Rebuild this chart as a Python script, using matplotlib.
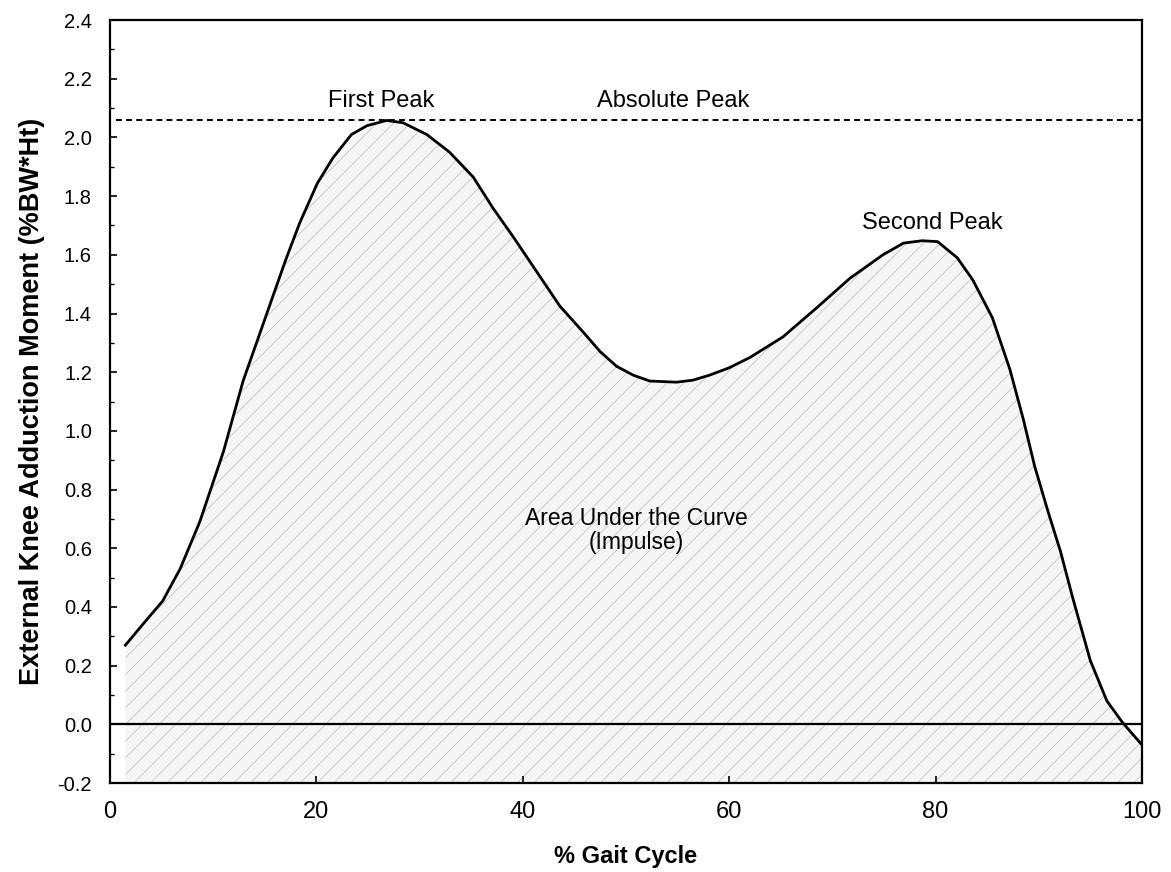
import matplotlib
matplotlib.use("Agg")
import matplotlib.pyplot as plt
import numpy as np

plt.rcParams['font.family'] = ['Liberation Sans', 'DejaVu Sans']
plt.rcParams['hatch.linewidth'] = 0.5

# knee adduction moment over the gait cycle
gait = [1.5, 3.4, 5.1, 6.8, 8.7, 11.0, 12.9, 14.8, 15.7, 17.0, 18.4, 20.1, 21.6,
        23.4, 24.9, 26.8, 28.4, 30.7, 32.9, 35.2, 37.1, 39.1, 41.4, 43.6, 45.9,
        47.5, 49.1, 50.7, 52.3, 54.9, 56.5, 58.1, 60.0, 62.0, 65.2, 68.5, 71.7,
        74.9, 76.9, 78.7, 80.2, 82.1, 83.6, 85.5, 87.2, 88.5, 89.6, 90.9, 92.1,
        93.3, 95.0, 96.6, 98.1, 100.0]
moment = [0.27, 0.35, 0.42, 0.53, 0.69, 0.93, 1.17, 1.36, 1.45, 1.58, 1.71, 1.844, 1.93,
          2.01, 2.04, 2.058, 2.05, 2.01, 1.95, 1.865, 1.76, 1.66, 1.54, 1.425, 1.335,
          1.27, 1.22, 1.19, 1.17, 1.166, 1.173, 1.19, 1.215, 1.25, 1.32, 1.42, 1.52,
          1.60, 1.64, 1.648, 1.645, 1.59, 1.515, 1.386, 1.21, 1.04, 0.88, 0.725, 0.59,
          0.43, 0.217, 0.08, 0.007, -0.07]
abs_peak = 2.06

fig = plt.figure(figsize=(11.71, 8.72), dpi=100)
ax = fig.add_axes([0.0939, 0.102, 0.8813, 0.875])

ax.fill_between(gait, moment, -0.2, facecolor='#f5f5f5', edgecolor='#bcbcbc',
                hatch='//', linewidth=0, zorder=1)
ax.plot(gait, moment, color='black', lw=2, zorder=3)
ax.axhline(0, color='black', lw=1.6, zorder=2)
ax.plot([0.6, 100], [abs_peak, abs_peak], color='black', lw=1.4,
        linestyle=(0, (3, 2.2)), zorder=2)

ax.text(26.3, 2.125, 'First Peak', ha='center', va='center', fontsize=17)
ax.text(54.6, 2.125, 'Absolute Peak', ha='center', va='center', fontsize=17)
ax.text(79.7, 1.71, 'Second Peak', ha='center', va='center', fontsize=17)
ax.text(51.0, 0.66, 'Area Under the Curve\n(Impulse)', ha='center', va='center',
        fontsize=16.5, linespacing=1.05)

ax.set_xlim(0, 100)
ax.set_ylim(-0.2, 2.4)
ax.set_xticks(np.arange(0, 101, 20))
ax.set_yticks(np.arange(-0.2, 2.41, 0.2))
ax.set_yticks(np.arange(-0.1, 2.4, 0.2), minor=True)
ax.set_yticklabels(['%.1f' % v for v in np.arange(-0.2, 2.41, 0.2)])
ax.tick_params(direction='in', length=5, width=1.2)
ax.tick_params(axis='x', labelsize=17, pad=13)
ax.tick_params(axis='y', labelsize=14.5, pad=13)
ax.tick_params(which='minor', direction='in', length=3, width=1)
for s in ax.spines.values():
    s.set_linewidth(1.6)

ax.set_xlabel('% Gait Cycle', fontsize=17, fontweight='bold', labelpad=16)
ax.set_ylabel('External Knee Adduction Moment (%BW*Ht)', fontsize=19.5,
              fontweight='bold', labelpad=9)

fig.savefig('out.png', dpi=100)
